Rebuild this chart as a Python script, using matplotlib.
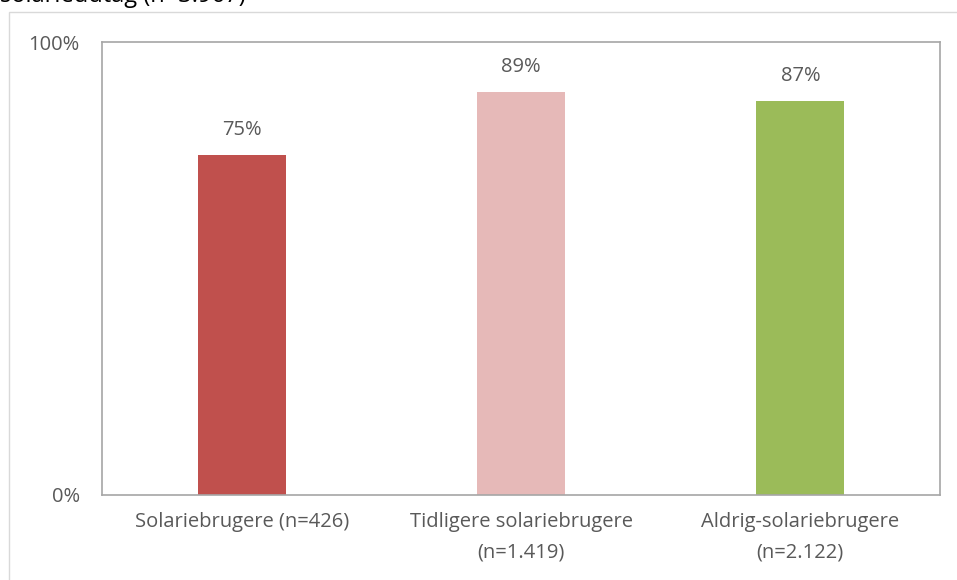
import matplotlib
matplotlib.use("Agg")
import matplotlib.pyplot as plt
from matplotlib.patches import Rectangle

categories = ["Solariebrugere (n=426)", "Tidligere solariebrugere\n(n=1.419)", "Aldrig-solariebrugere\n(n=2.122)"]
values = [75, 89, 87]
colors = ["#C0504D", "#E6B9B8", "#9BBB59"]
yticks = [0, 100]
ytick_labels = ["0%", "100%"]
title_text = "solarieudtag (n=3.967)"

plt.rcParams['font.family'] = ['Open Sans', 'DejaVu Sans']
text_color = "#595959"
fs = 14.5

fig = plt.figure(figsize=(9.57, 5.8), dpi=100)
W, H = 957, 580
# outer chart border
fig.patches.append(Rectangle((9/W, -0.01), (W + 10 - 9)/W, (580 - 12)/H + 0.01,
                             transform=fig.transFigure, fill=False,
                             edgecolor="#D9D9D9", linewidth=1.0))
# cut-off title at top
fig.text(0/W, 1.0 + 4/H, title_text, fontsize=17, color="#000000",
         ha="left", va="center")

ax = fig.add_axes([102/W, 1 - 495/H, (940 - 102)/W, (495 - 42)/H])
x = range(len(categories))
bars = ax.bar(x, values, width=0.315, color=colors)
for xi, v in zip(x, values):
    ax.text(xi, v + 3.3, f"{v}%", ha="center", va="bottom", fontsize=fs, color=text_color)

ax.set_xlim(-0.5, len(categories) - 0.5)
ax.set_ylim(0, 100)
ax.set_yticks(yticks)
ax.set_yticklabels(ytick_labels, fontsize=fs, color=text_color)
ax.set_xticks(list(x))
ax.set_xticklabels(categories, fontsize=fs, color=text_color, linespacing=1.75)
ax.tick_params(axis="both", length=0)
ax.tick_params(axis="y", pad=16)
ax.tick_params(axis="x", pad=12)
for s in ax.spines.values():
    s.set_color("#A6A6A6")
    s.set_linewidth(1.2)

fig.savefig("out.png", dpi=100)
